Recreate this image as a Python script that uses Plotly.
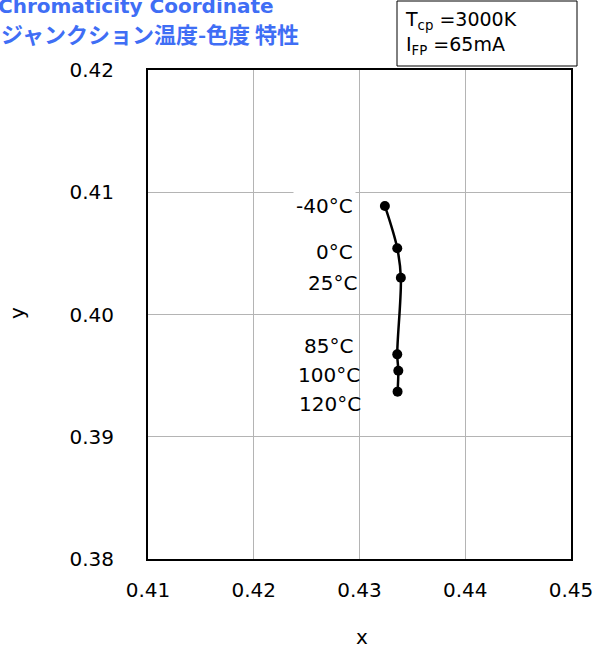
import plotly.graph_objects as go

# Data
temps = ["-40°C", "0°C", "25°C", "85°C", "100°C", "120°C"]
x_vals = [0.4324, 0.43357, 0.43391, 0.43357, 0.43367, 0.4336]
y_vals = [0.40888, 0.40542, 0.40301, 0.39674, 0.3954, 0.39369]

x_ticks = [0.41, 0.42, 0.43, 0.44, 0.45]
x_tick_labels = ["0.41", "0.42", "0.43", "0.44", "0.45"]
y_ticks = [0.38, 0.39, 0.40, 0.41, 0.42]
y_tick_labels = ["0.38", "0.39", "0.40", "0.41", "0.42"]

title_line1 = "Chromaticity Coordinate"
title_line2 = "ジャンクション温度-色度 特性"
cond_text = "T<sub>cp</sub> =3000K<br>I<sub>FP</sub> =65mA"
x_title = "x"
y_title = "y"

# label offsets (pixels) relative to points
label_dx = [-29, -41, -41, -41, -35, -34]
label_dy = [0, -4, -5, 8, -4, -12]

FONT = "DejaVu Sans, Verdana, sans-serif"
W, H = 594, 649
L, T = 148, 70
R = W - 571
B = H - 559
PW, PH = W - L - R, H - T - B

def px(p):
    return (p - L) / PW

def py(p):
    return (H - B - p) / PH

fig = go.Figure()
fig.add_trace(go.Scatter(
    x=x_vals, y=y_vals, mode="lines+markers",
    line=dict(color="black", width=2.5, shape="spline"),
    marker=dict(color="black", size=10),
    showlegend=False, hoverinfo="skip",
))

annotations = []
for t, xv, yv, dx, dy in zip(temps, x_vals, y_vals, label_dx, label_dy):
    annotations.append(dict(
        x=xv, y=yv, xref="x", yref="y", text=t, showarrow=False,
        xanchor="right", yanchor="middle", xshift=dx, yshift=dy,
        font=dict(family=FONT, size=20, color="black"),
        bgcolor="white" if t == "-40°C" else "rgba(0,0,0,0)",
        borderpad=2,
    ))

annotations.append(dict(
    x=px(-4), y=py(6), xref="paper", yref="paper", text="<b>" + title_line1 + "</b>",
    showarrow=False, xanchor="left", yanchor="middle",
    font=dict(family=FONT, size=20, color="#3F6EF5"),
))
annotations.append(dict(
    x=px(-1), y=py(33), xref="paper", yref="paper", text="<b>" + title_line2 + "</b>",
    showarrow=False, xanchor="left", yanchor="middle",
    font=dict(family="Noto Sans CJK JP, " + FONT, size=22, color="#3F6EF5"),
))
annotations.append(dict(
    x=px(403), y=py(33), xref="paper", yref="paper", text=cond_text,
    showarrow=False, xanchor="left", yanchor="middle", align="left",
    font=dict(family=FONT, size=19, color="black"),
))
annotations.append(dict(
    x=px(362), y=py(637), xref="paper", yref="paper", text=x_title,
    showarrow=False, xanchor="center", yanchor="middle",
    font=dict(family=FONT, size=20, color="black"),
))
annotations.append(dict(
    x=px(17), y=py(313), xref="paper", yref="paper", text=y_title,
    showarrow=False, xanchor="center", yanchor="middle", textangle=-90,
    font=dict(family=FONT, size=20, color="black"),
))

fig.add_shape(type="rect", xref="paper", yref="paper",
              x0=px(397), x1=px(577), y0=py(66), y1=py(1),
              line=dict(color="black", width=1), fillcolor="white", layer="below")

fig.update_layout(
    width=W, height=H,
    margin=dict(l=L, r=R, t=T, b=B, autoexpand=False),
    paper_bgcolor="white", plot_bgcolor="white",
    font=dict(family=FONT, size=20, color="black"),
    annotations=annotations,
)
fig.update_xaxes(
    range=[0.41, 0.45], tickvals=x_ticks, ticktext=x_tick_labels,
    showgrid=True, gridcolor="#b4b4b4", gridwidth=1,
    showline=True, mirror=True, linecolor="black", linewidth=2,
    ticks="", ticklabelstandoff=12, zeroline=False, automargin=False,
)
fig.update_yaxes(
    range=[0.38, 0.42], tickvals=y_ticks, ticktext=y_tick_labels,
    showgrid=True, gridcolor="#b4b4b4", gridwidth=1,
    showline=True, mirror=True, linecolor="black", linewidth=2,
    ticks="", ticklabelstandoff=28, zeroline=False, automargin=False,
)

fig.write_html("out.html", config={"displayModeBar": False},
               post_script="document.body.style.margin='0px';")
